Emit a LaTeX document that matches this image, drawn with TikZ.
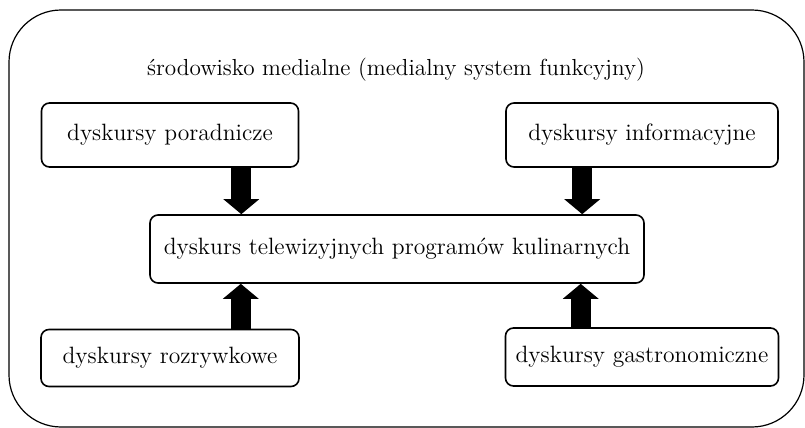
\documentclass[tikz,border=0pt]{standalone}
\usepackage{fontspec}
\usepackage{tikz}
\usetikzlibrary{arrows.meta}

\begin{document}
\begin{tikzpicture}[x=0.5pt, y=-0.5pt,
        box/.style={draw, line width=0.8pt, rounded corners=4pt, align=center,
            inner sep=0pt, font=\fontsize{11.8}{14}\selectfont},
        bigarrow/.style={line width=10pt,
            -{Triangle[width=17.5pt, length=7.5pt]}}]
        \useasboundingbox (0,0) rectangle (805,428);

        % Outer frame
        \draw[line width=0.6pt, rounded corners=26pt] (9,10) rectangle (804,427);
        \node[font=\fontsize{11.6}{14}\selectfont] (env) at (396,70)
            {środowisko medialne (medialny system funkcyjny)};

        % Discourses
        \node[box, minimum width=128.5pt, minimum height=32pt] (por) at (170,135) {dyskursy poradnicze};
        \node[box, minimum width=136pt, minimum height=32pt] (inf) at (642,135) {dyskursy informacyjne};
        \node[box, minimum width=247pt, minimum height=34pt] (cen) at (397,249) {dyskurs telewizyjnych programów kulinarnych};
        \node[box, minimum width=129pt, minimum height=28.5pt] (roz) at (170,358) {dyskursy rozrywkowe};
        \node[box, minimum width=136.5pt, minimum height=29pt] (gas) at (642,357) {dyskursy gastronomiczne};

        % Arrows
        \draw[bigarrow] ([xshift=-29pt]por.south east) -- ([xshift=-29pt]por.south east |- cen.north);
        \draw[bigarrow] ([xshift=38.5pt]inf.south west) -- ([xshift=38.5pt]inf.south west |- cen.north);
        \draw[bigarrow] ([xshift=-29.5pt]roz.north east) -- ([xshift=-29.5pt]roz.north east |- cen.south);
        \draw[bigarrow] ([xshift=38pt]gas.north west) -- ([xshift=38pt]gas.north west |- cen.south);
\end{tikzpicture}
\end{document}
